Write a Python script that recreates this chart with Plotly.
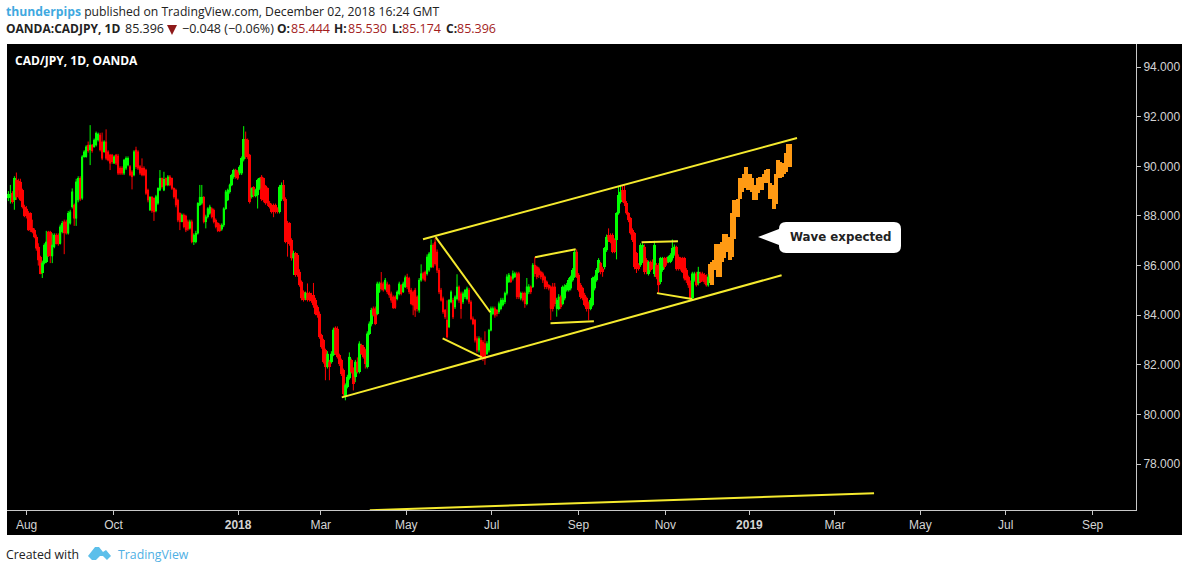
import pandas as pd
import plotly.graph_objects as go

opens = [
88.72,88.75,88.91,88.64,89.45,89.42,89.38,89.04,88.37,88.30,
88.13,88.10,87.50,87.43,87.16,86.76,86.36,85.71,86.09,86.15,
87.36,87.36,86.38,86.76,87.23,87.23,86.89,87.36,87.77,87.77,
87.30,87.70,88.37,88.44,87.90,88.64,89.51,88.71,90.39,90.39,
90.86,90.66,90.86,90.79,90.86,91.06,91.26,90.99,90.59,90.99,
90.59,90.46,90.46,90.12,90.46,90.42,89.92,89.92,89.72,89.92,
90.05,89.99,89.78,89.65,90.66,90.59,89.99,89.92,89.92,89.85,
89.04,88.24,88.75,88.71,88.21,88.51,89.04,89.51,89.04,89.51,
89.25,89.58,89.51,89.11,89.04,88.64,88.10,87.77,88.04,88.00,
87.77,87.50,87.77,86.96,86.96,87.30,88.44,88.51,88.75,87.77,
87.97,88.10,88.30,88.24,87.83,87.70,87.63,87.46,87.63,88.30,
88.64,88.98,89.25,89.58,89.85,89.78,89.72,89.72,90.28,91.09,
91.06,90.46,88.78,89.15,88.80,88.84,89.11,89.58,89.51,89.21,
89.11,88.51,88.44,88.44,88.44,88.30,88.17,88.67,89.25,88.67,
87.73,87.70,87.03,86.29,86.49,86.42,85.75,85.35,84.95,84.68,
84.91,84.88,84.81,
84.81,84.60,84.33,84.06,83.19,82.99,82.59,81.91,82.12,82.12,
82.39,83.50,83.46,82.39,82.18,81.78,80.70,81.11,81.45,82.18,
81.85,81.51,82.12,81.71,82.79,82.72,82.59,81.91,83.26,83.63,
84.27,84.27,84.06,84.94,85.31,85.27,85.07,85.27,85.21,84.87,
84.74,84.74,84.67,84.87,85.21,84.94,85.14,85.54,85.48,85.01,
84.94,85.01,84.74,84.20,85.41,85.68,85.74,85.68,85.81,85.95,
86.82,86.95,86.55,85.81,85.01,84.67,84.20,83.80,83.53,84.53,
84.60,84.33,84.67,85.14,84.87,84.53,84.74,84.67,85.01,84.53,
83.86,83.80,83.06,82.59,82.99,82.92,82.86,82.45,82.59,83.39,
84.06,84.27,84.20,
84.14,84.27,84.41,84.54,84.88,85.35,85.55,85.48,85.55,85.68,
85.68,84.68,84.88,84.88,84.47,84.94,85.15,85.15,86.02,85.95,
85.88,85.75,85.68,85.55,85.35,85.21,85.15,85.15,85.15,84.27,
84.27,84.74,84.47,84.68,85.01,85.01,85.08,85.41,85.55,86.56,
85.62,85.21,85.08,84.81,84.68,84.47,84.27,84.41,85.08,85.41,
85.75,86.09,85.88,85.95,86.62,87.23,87.23,87.23,87.03,87.03,
88.10,88.57,89.04,89.04,88.51,88.10,87.90,87.43,87.30,86.49,
86.02,86.02,86.15,86.76,86.22,85.68,86.15,86.15,85.68,86.02,
86.02,85.35,85.82,86.29,86.29,86.15,86.15,86.29,86.49,86.76,
86.36,86.29,86.29,86.29,85.82,85.55,85.28,84.68,85.41,85.68,
85.28,85.68,85.68,85.62,85.55,85.21]

closes = [
88.88,88.85,88.57,89.51,88.75,89.04,88.64,88.37,88.00,88.00,
87.43,87.43,87.36,87.16,86.69,86.22,85.68,86.11,86.83,86.96,
86.38,86.40,86.83,87.23,86.89,86.87,87.57,87.70,87.32,87.30,
88.10,88.17,88.98,87.90,89.38,89.51,88.67,90.39,90.59,90.79,
90.63,90.86,90.63,91.06,91.33,91.30,90.66,90.32,90.99,90.32,
90.25,90.12,90.19,90.39,90.12,89.72,89.72,89.72,90.25,90.32,
90.32,89.65,89.58,90.59,89.99,89.92,89.72,89.65,89.65,88.91,
88.64,88.75,88.21,88.17,88.78,89.11,89.51,89.18,89.47,89.25,
89.58,89.25,89.11,88.78,88.44,87.83,87.77,88.04,87.57,87.43,
87.46,87.77,86.96,87.23,87.30,88.51,88.75,88.75,87.77,87.97,
88.30,88.37,87.97,87.77,87.57,87.41,87.41,87.63,88.30,88.98,
89.04,89.25,89.65,89.85,89.58,89.51,89.99,90.32,91.09,90.39,
90.39,88.57,89.11,88.84,89.04,89.45,89.51,88.67,88.64,88.51,
88.51,88.37,88.17,88.17,88.17,88.17,89.18,89.25,88.67,86.96,
86.96,86.89,86.29,86.49,85.62,85.62,85.21,84.68,84.61,84.91,
84.61,84.61,84.58,
84.40,84.06,84.00,83.12,82.72,82.12,81.91,82.45,81.91,82.45,
83.42,82.45,82.32,82.05,81.65,80.84,81.17,81.51,82.32,81.71,
81.24,82.12,81.71,82.86,82.45,82.32,82.05,83.26,83.66,84.20,
84.00,83.66,85.27,85.27,85.07,85.01,85.41,84.94,84.81,84.60,
84.31,84.31,84.94,85.27,84.87,85.27,85.52,85.14,84.94,84.47,
84.40,84.20,84.27,85.41,85.68,85.48,85.41,86.35,86.48,86.82,
85.95,86.08,85.81,84.94,84.60,84.13,83.93,83.12,84.60,84.94,
83.93,84.74,85.14,84.60,84.27,84.87,85.01,85.07,84.53,83.86,
83.66,82.99,82.59,83.06,82.32,82.25,82.25,82.86,83.39,84.27,
84.27,84.00,84.06,
84.47,84.61,84.61,84.88,85.55,85.62,85.35,85.68,85.68,84.74,
84.74,84.88,84.61,84.47,85.15,85.15,84.94,86.02,85.68,85.55,
85.62,85.55,85.41,85.15,85.15,85.08,84.27,84.27,84.47,84.61,
84.74,84.34,85.15,85.15,85.21,85.41,85.55,85.82,86.56,85.55,
85.01,84.74,84.68,84.41,84.27,84.27,84.61,85.48,85.55,85.82,
86.22,85.75,85.75,86.69,87.16,87.03,86.96,86.56,86.56,88.10,
88.84,88.98,88.64,88.51,88.10,87.83,87.30,87.03,85.95,85.88,
85.88,86.83,86.83,85.75,85.75,86.15,85.82,85.95,86.83,85.55,
85.21,86.29,86.29,85.95,86.09,86.36,86.42,86.69,86.76,85.88,
85.88,85.88,85.75,85.48,85.41,85.21,84.68,85.68,85.68,85.21,
85.75,85.35,85.41,85.35,85.21,85.55]

highs = [
89.00,89.25,89.00,89.60,89.75,89.50,89.50,89.10,88.45,88.40,
88.20,88.15,87.85,87.50,87.25,86.90,86.40,86.20,86.90,87.40,
87.40,87.40,87.30,87.30,87.30,87.30,87.65,87.80,87.85,87.85,
88.20,88.25,89.11,88.50,89.50,89.60,89.60,90.45,90.65,90.85,
91.00,91.66,90.90,91.12,91.40,91.36,91.35,91.36,91.05,91.49,
90.65,90.50,90.50,90.45,90.50,90.50,90.00,90.00,90.30,90.40,
90.40,90.05,89.85,90.65,90.79,90.65,90.05,90.32,90.00,89.90,
89.10,88.80,88.80,88.75,88.85,89.15,89.85,89.55,89.78,89.55,
89.65,89.65,89.55,89.15,89.10,88.70,88.15,88.10,88.10,88.05,
87.85,87.85,87.85,87.30,87.40,88.55,89.25,89.25,88.80,88.05,
88.35,88.45,88.35,88.30,87.90,87.75,87.70,87.70,88.35,89.05,
89.10,89.30,89.70,89.90,89.90,89.85,90.05,90.40,91.62,91.40,
91.12,90.50,89.15,89.20,89.10,89.50,89.55,89.65,89.55,89.25,
89.15,88.60,88.50,88.50,88.50,88.35,89.25,89.35,89.45,88.75,
87.80,87.75,87.10,86.60,86.55,86.50,85.85,85.40,85.00,84.95,
85.28,84.95,84.90,
85.30,84.70,84.40,84.15,83.25,83.05,82.65,82.55,82.20,82.55,
83.50,83.55,83.55,82.45,82.25,81.85,81.25,81.60,82.50,82.25,
81.90,82.20,82.30,82.95,82.85,82.80,82.65,83.35,83.75,84.30,
84.35,84.35,85.35,85.35,85.74,85.35,85.50,85.35,85.25,84.95,
84.80,84.80,85.00,85.35,85.25,85.35,85.60,85.67,85.55,85.10,
85.00,85.10,84.80,85.50,86.05,85.75,85.80,86.45,86.55,87.05,
86.90,87.10,86.65,85.90,85.10,84.75,84.25,84.60,84.65,85.00,
84.70,84.80,85.65,85.20,84.95,84.95,85.05,85.15,85.10,84.60,
83.95,83.85,83.15,83.15,83.10,83.00,83.35,82.95,83.45,84.35,
84.35,84.35,84.25,
84.55,84.70,84.70,84.95,85.65,85.70,85.60,85.80,85.75,85.75,
85.75,84.95,84.95,84.95,85.50,85.25,85.20,86.10,86.35,86.00,
85.95,85.80,85.75,85.60,85.40,85.25,85.20,85.30,85.30,84.70,
84.85,84.80,85.20,85.25,85.30,85.50,85.60,85.90,86.65,86.65,
85.70,85.30,85.15,84.90,84.75,84.55,84.70,85.55,85.60,85.90,
86.30,86.15,85.95,86.75,87.25,87.50,87.30,87.30,87.10,88.15,
89.20,89.25,89.25,89.25,88.60,88.15,87.95,87.50,87.35,86.55,
86.10,86.90,86.90,86.85,86.30,86.20,86.20,86.25,87.00,86.10,
86.10,86.35,86.35,86.35,86.35,86.40,86.50,87.05,86.85,86.80,
86.45,86.35,86.35,86.35,85.90,85.60,85.40,85.75,85.75,85.75,
85.95,85.75,85.75,85.70,85.65,85.65]

lows = [
88.60,88.50,88.50,88.25,88.65,88.70,88.60,88.30,87.95,87.90,
87.40,87.35,87.30,87.10,86.60,86.00,85.65,85.50,86.05,86.10,
86.35,86.10,86.10,86.70,86.85,86.80,86.85,87.30,86.46,87.25,
87.25,87.65,88.30,87.60,87.60,88.55,88.60,88.65,90.35,90.35,
90.55,90.05,90.55,90.75,90.80,91.00,90.60,90.25,90.55,90.25,
90.20,89.85,90.10,90.10,90.05,89.65,89.65,89.65,89.65,89.85,
90.00,89.60,89.07,89.60,89.90,89.85,89.65,89.60,89.60,88.85,
88.55,88.20,88.13,87.80,88.15,88.45,89.00,89.10,89.00,89.20,
89.20,89.20,89.05,88.70,88.35,87.75,87.43,87.75,87.50,87.35,
87.40,87.45,86.90,86.83,86.90,87.25,88.40,88.45,87.70,87.50,
87.90,88.05,87.90,87.70,87.50,87.35,87.35,87.40,87.55,88.25,
88.60,88.90,89.20,89.50,89.50,89.45,89.65,89.65,90.20,90.30,
90.30,88.50,88.70,88.75,88.75,88.30,89.05,88.60,88.55,88.45,
88.40,88.30,88.10,87.95,88.10,88.10,88.10,88.60,88.60,86.90,
86.36,86.80,86.20,85.62,85.55,85.55,85.15,84.60,84.55,84.60,
84.55,84.55,84.50,
84.30,84.00,83.90,83.05,82.65,82.05,81.38,81.85,81.38,82.05,
82.35,82.40,82.25,81.95,81.55,80.70,80.57,81.05,81.40,81.65,
80.97,81.30,81.65,81.65,82.40,82.25,81.85,81.85,83.20,83.55,
83.95,83.60,84.00,84.90,85.00,84.95,85.00,84.85,84.70,84.50,
84.25,84.25,84.60,84.80,84.80,84.90,85.10,85.05,84.85,84.40,
84.00,83.93,84.15,84.10,85.35,85.40,85.35,85.60,85.75,85.90,
85.90,86.00,85.70,84.85,84.55,84.05,83.85,83.06,83.48,84.48,
83.85,84.25,84.60,84.50,83.86,84.45,84.65,84.60,84.45,83.80,
83.60,82.90,82.50,82.50,82.25,82.15,82.00,82.40,82.50,83.35,
84.00,83.90,83.95,
84.05,84.20,84.35,84.45,84.80,85.30,85.30,85.40,85.50,84.65,
84.65,84.60,84.55,84.30,84.40,84.85,84.85,85.10,85.55,85.45,
85.50,85.45,85.30,85.05,85.05,85.00,83.80,84.15,84.35,83.94,
84.20,84.25,84.40,84.60,84.95,84.95,85.00,85.35,85.50,85.50,
84.95,84.65,84.60,84.35,84.15,83.80,84.20,84.35,85.00,85.35,
85.70,85.65,85.55,85.85,86.55,86.95,86.90,86.50,86.50,86.25,
88.05,88.50,88.55,88.40,88.05,87.75,87.25,86.95,85.85,85.70,
85.80,85.95,86.10,85.65,85.65,85.60,85.75,85.85,85.55,85.45,
84.90,85.25,85.75,85.85,86.00,86.10,86.10,86.20,86.40,85.80,
85.80,85.80,85.70,85.40,85.30,85.10,84.60,84.60,85.35,85.15,
85.20,85.30,85.35,85.25,85.15,85.15]

wave_high = [
86.08,86.15,86.22,86.89,86.89,86.62,86.96,87.29,87.29,87.09,
87.16,88.10,88.64,88.64,88.70,89.51,89.51,89.71,89.98,89.65,
89.71,89.51,89.11,89.24,89.51,89.58,89.58,89.71,89.85,89.91,
89.31,89.24,89.18,89.71,90.25,90.18,90.12,90.12,90.52,90.92,90.92]
wave_low = [
85.28,85.21,85.82,85.82,85.55,85.55,86.15,86.29,86.55,86.55,
86.22,86.35,87.09,87.97,87.97,88.70,88.97,89.11,89.31,89.04,
89.04,88.97,88.64,88.64,88.91,89.04,89.04,89.31,89.31,89.31,
88.70,88.70,88.30,88.50,89.58,89.51,89.58,89.71,89.78,90.39,89.98]

upper_line_dates = ["2018-05-11", "2019-02-02"]
upper_line_prices = [87.06, 91.14]
lower_line_dates = ["2018-03-14", "2019-01-22"]
lower_line_prices = [80.69, 85.61]
bottom_line_dates = ["2018-04-03", "2019-03-29"]
bottom_line_prices = [76.14, 76.82]
pattern_dates = [
    ["2018-05-20", "2018-06-28"], ["2018-05-25", "2018-06-22"],
    ["2018-07-30", "2018-08-28"], ["2018-08-10", "2018-09-10"],
    ["2018-10-14", "2018-11-09"], ["2018-10-25", "2018-11-19"],
]
pattern_prices = [
    [87.15, 84.12], [83.07, 82.30],
    [86.34, 86.66], [83.68, 83.76],
    [86.94, 86.98], [84.89, 84.65],
]

y_ticks = [78, 80, 82, 84, 86, 88, 90, 92, 94]
x_tick_dates = ["2017-08-01", "2017-10-02", "2017-12-30", "2018-02-27", "2018-04-29",
                "2018-06-29", "2018-08-30", "2018-10-31", "2018-12-30", "2019-03-01",
                "2019-05-01", "2019-07-01", "2019-09-01"]
x_tick_text = ["Aug", "Oct", "<b>2018</b>", "Mar", "May", "Jul", "Sep", "Nov",
               "<b>2019</b>", "Mar", "May", "Jul", "Sep"]

assert len(opens) == len(closes) == len(highs) == len(lows), (len(opens), len(closes), len(highs), len(lows))
assert len(wave_high) == len(wave_low)

W, H = 1188, 572
L, R, T, B = 7, 1136, 44, 510
fx = lambda x: (x - L) / (R - L)
fy = lambda y: (B - y) / (B - T)

n = len(opens) + len(wave_high)
dates = pd.date_range("2017-07-19", "2019-01-28", periods=n)
real_dates = dates[:len(opens)]
wave_dates = dates[len(opens):]

GREEN, RED, ORANGE, YELLOW = "#00ff00", "#ff0000", "#ff9a13", "#f5ea2e"
DAY_MS = 86400000
fig = go.Figure()
# wicks
fig.add_trace(go.Candlestick(
    x=real_dates, open=opens, high=highs, low=lows, close=closes,
    increasing=dict(line=dict(color=GREEN, width=1), fillcolor=GREEN),
    decreasing=dict(line=dict(color=RED, width=1), fillcolor=RED),
    whiskerwidth=0, showlegend=False))
# candle bodies at the reference's width
fig.add_trace(go.Bar(
    x=real_dates,
    y=[abs(c - o) for o, c in zip(opens, closes)],
    base=[min(o, c) for o, c in zip(opens, closes)],
    width=1.75 * DAY_MS,
    marker=dict(color=[GREEN if c >= o else RED for o, c in zip(opens, closes)], line=dict(width=0)),
    showlegend=False, hoverinfo="skip"))
fig.add_trace(go.Bar(
    x=wave_dates,
    y=[h - l for h, l in zip(wave_high, wave_low)],
    base=wave_low,
    width=2.6 * DAY_MS,
    marker=dict(color=ORANGE, line=dict(width=0)),
    showlegend=False, hoverinfo="skip"))

def add_line(xs, ys):
    fig.add_trace(go.Scatter(x=xs, y=ys, mode="lines", showlegend=False,
                             hoverinfo="skip", line=dict(color=YELLOW, width=2)))

add_line(upper_line_dates, upper_line_prices)
add_line(lower_line_dates, lower_line_prices)
add_line(bottom_line_dates, bottom_line_prices)
for xs, ys in zip(pattern_dates, pattern_prices):
    add_line(xs, ys)

def path(points, close=True):
    s = "M" + " L".join(f"{fx(x):.5f},{fy(y):.5f}" for x, y in points)
    return s + (" Z" if close else "")

shapes = [dict(type="rect", xref="paper", yref="paper", layer="below",
               x0=fx(7), x1=fx(1182), y0=fy(535), y1=fy(44),
               fillcolor="#000000", line=dict(width=0))]
a, b, c, d, r = 779, 901, 222, 253, 7
bubble = (f"M{fx(a+r):.5f},{fy(c):.5f} L{fx(b-r):.5f},{fy(c):.5f} "
          f"Q{fx(b):.5f},{fy(c):.5f} {fx(b):.5f},{fy(c+r):.5f} "
          f"L{fx(b):.5f},{fy(d-r):.5f} Q{fx(b):.5f},{fy(d):.5f} {fx(b-r):.5f},{fy(d):.5f} "
          f"L{fx(a+r):.5f},{fy(d):.5f} Q{fx(a):.5f},{fy(d):.5f} {fx(a):.5f},{fy(d-r):.5f} "
          f"L{fx(a):.5f},{fy(245):.5f} L{fx(758):.5f},{fy(237):.5f} L{fx(a):.5f},{fy(229):.5f} "
          f"Q{fx(a):.5f},{fy(c):.5f} {fx(a+r):.5f},{fy(c):.5f} Z")
shapes.append(dict(type="path", xref="paper", yref="paper", path=bubble,
                   fillcolor="#ffffff", line=dict(width=0)))
shapes.append(dict(type="path", xref="paper", yref="paper",
                   path=path([(167, 25), (177, 25), (172, 35)]),
                   fillcolor="#8e1a1a", line=dict(width=0)))
shapes.append(dict(type="path", xref="paper", yref="paper",
                   path=path([(88, 556), (95, 547), (99, 547), (103, 552), (106, 550), (111, 556),
                              (107, 560), (103, 556), (100, 556), (96, 560), (92, 560)]),
                   fillcolor="#5cbfea", line=dict(width=0)))

def txt(x, y, text, size=12.5, color="#222222", family="Open Sans", anchor="left"):
    return dict(xref="paper", yref="paper", x=fx(x), y=fy(y), text=text, showarrow=False,
                xanchor=anchor, yanchor="middle", borderpad=0, borderwidth=0,
                font=dict(family=family, size=size, color=color))

BLUE, DARKRED = "#3fa9e0", "#a31d1d"
annots = [
    txt(6, 11, f'<span style="color:{BLUE}"><b>thunderpips</b></span> published on TradingView.com, December 02, 2018 16:24 GMT', size=12.2),
    txt(6, 29, "<b>OANDA:CADJPY, 1D</b>", size=12),
    txt(125, 29, "85.396"),
    txt(182, 29, "−0.048 (−0.06%)"),
    txt(277, 29, "<b>O:</b>", size=12), txt(291, 29, "85.444", color=DARKRED),
    txt(334, 29, "<b>H:</b>", size=12), txt(348, 29, "85.530", color=DARKRED),
    txt(392, 29, "<b>L:</b>", size=12), txt(402, 29, "85.174", color=DARKRED),
    txt(446, 29, "<b>C:</b>", size=12), txt(457, 29, "85.396", color=DARKRED),
    txt(15, 60, "<b>CAD/JPY, 1D, OANDA</b>", size=12, color="#ffffff"),
    txt(840, 237, "<b>Wave expected</b>", size=11.8, color="#222222", family="DejaVu Sans", anchor="center"),
    txt(6, 554, "Created with", size=12.3),
    txt(118, 554, "TradingView", size=12.3, color="#4fb0e4"),
]

tickfont = dict(family="Liberation Sans", size=12, color="#d4d4d4")
fig.update_layout(
    width=W, height=H, autosize=False, barmode="overlay", bargap=0,
    margin=dict(l=L, r=W - R, t=T, b=H - B, pad=0),
    paper_bgcolor="#ffffff", plot_bgcolor="#000000",
    showlegend=False, shapes=shapes, annotations=annots,
    xaxis=dict(type="date", range=["2017-07-18", "2019-10-02"], rangeslider=dict(visible=False),
               tickmode="array", tickvals=x_tick_dates, ticktext=x_tick_text,
               showgrid=False, zeroline=False, showline=True, linecolor="#c8c8c8", linewidth=1,
               ticks="outside", ticklen=4, tickcolor="#c8c8c8", tickfont=tickfont),
    yaxis=dict(range=[76.15, 94.93], side="right", tickmode="array", tickvals=y_ticks,
               ticktext=[f"{v:.3f}" for v in y_ticks],
               showgrid=False, zeroline=False, showline=True, linecolor="#c8c8c8", linewidth=1,
               ticks="outside", ticklen=4, tickcolor="#c8c8c8", tickfont=tickfont),
)
fig.write_html("out.html", config={"displayModeBar": False},
               post_script="document.body.style.margin='0';document.body.style.overflow='hidden';")
